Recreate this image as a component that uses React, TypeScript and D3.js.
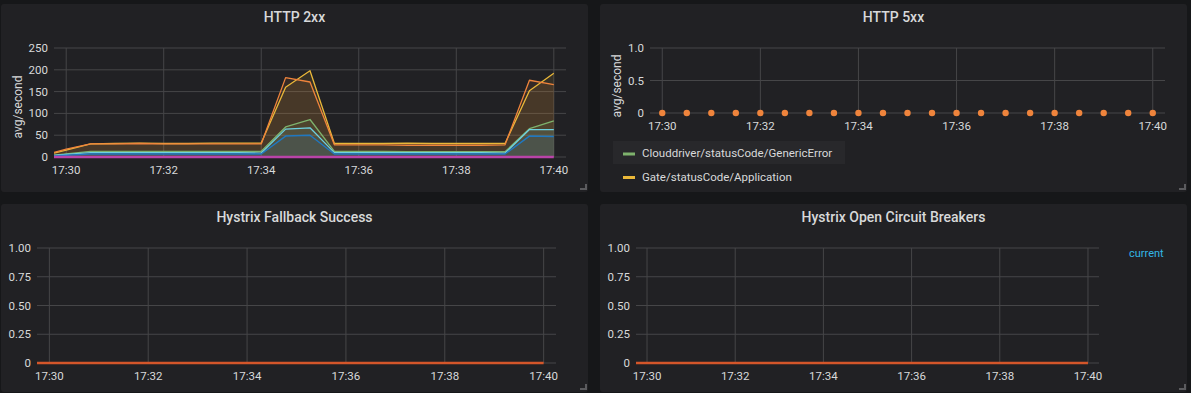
import React from "react";
import * as d3 from "d3";

const W = 1191;
const H = 393;

// 30s samples shared by all panels
const sampleTimes = [
  "17:29:30", "17:30:00", "17:30:30", "17:31:00", "17:31:30", "17:32:00",
  "17:32:30", "17:33:00", "17:33:30", "17:34:00", "17:34:30", "17:35:00",
  "17:35:30", "17:36:00", "17:36:30", "17:37:00", "17:37:30", "17:38:00",
  "17:38:30", "17:39:00", "17:39:30", "17:40:00",
];

// HTTP 2xx series (avg/second)
const http2xxBlue = [1, 4, 7, 7, 7, 7, 7, 7, 7, 7, 48, 50, 7, 7, 7, 7, 7, 7, 7, 7, 48, 47];
const http2xxLightBlue = [1, 6, 10, 10, 10, 10, 10, 10, 10, 9, 64, 67, 10, 10, 10, 10, 10, 10, 10, 9, 63, 63];
const http2xxGreen = [1, 7, 13, 13, 13, 13, 13, 13, 13, 13, 69, 86, 13, 13, 13, 12, 12, 12, 12, 12, 65, 83];
const http2xxYellow = [2, 16, 30, 31, 32, 31, 31, 32, 32, 32, 160, 198, 31, 31, 31, 32, 31, 31, 31, 31, 152, 192];
const http2xxOrange = [3, 18, 30, 30, 31, 30, 30, 30, 30, 30, 182, 172, 28, 28, 28, 27, 27, 27, 27, 28, 176, 166];
const http2xxPink = [0, 0, 0, 0, 0, 0, 0, 0, 0, 0, 0, 0, 0, 0, 0, 0, 0, 0, 0, 0, 0, 0];

// HTTP 5xx: points from 17:30 on, all zero
const http5xxTimes = sampleTimes.slice(1);
const http5xxValues = [0, 0, 0, 0, 0, 0, 0, 0, 0, 0, 0, 0, 0, 0, 0, 0, 0, 0, 0, 0, 0];

// Hystrix panels: flat zero
const hystrixFallback = [0, 0, 0, 0, 0, 0, 0, 0, 0, 0, 0, 0, 0, 0, 0, 0, 0, 0, 0, 0, 0, 0];
const hystrixOpen = [0, 0, 0, 0, 0, 0, 0, 0, 0, 0, 0, 0, 0, 0, 0, 0, 0, 0, 0, 0, 0, 0];

const xTickLabels = ["17:30", "17:32", "17:34", "17:36", "17:38", "17:40"];
const http2xxTicks = [0, 50, 100, 150, 200, 250];
const http5xxTicks = [0, 0.5, 1];
const hystrixTicks = [0, 0.25, 0.5, 0.75, 1];
const legend5xx = ["Clouddriver/statusCode/GenericError", "Gate/statusCode/Application"];

const parseTime = d3.timeParse("%H:%M:%S");
const parseTick = d3.timeParse("%H:%M");
const timeDomain = [parseTime("17:29:45")!, parseTime("17:40:15")!];

const FONT = "Roboto, 'Open Sans', sans-serif";
const TEXT = "#d8d9da";
const GRID = "#464648";
const PANEL = "#212124";

function Panel({ x, y, w, h, title }: any) {
  return (
    <g>
      <rect x={x} y={y} width={w} height={h} rx={3} fill={PANEL} />
      <text
        x={x + w / 2}
        y={y + 18}
        textAnchor="middle"
        fill={TEXT}
        fontSize={14}
        fontWeight={500}
        fontFamily={FONT}
      >
        {title}
      </text>
      {/* resize handle */}
      <path
        d={`M${x + w - 2},${y + h - 8} V${y + h - 3} H${x + w - 8}`}
        fill="none"
        stroke="#5b5b5e"
        strokeWidth={2}
      />
    </g>
  );
}

function Axes({ xs, ys, yTicks, fmt, left, right, top, bottom }: any) {
  return (
    <g fontFamily={FONT} fontSize={11.5} fill={TEXT}>
      {yTicks.map((t: number) => (
        <g key={"y" + t}>
          <line x1={left} x2={right} y1={ys(t)} y2={ys(t)} stroke={GRID} />
          <text x={left - 6} y={ys(t)} dy="0.35em" textAnchor="end">
            {fmt(t)}
          </text>
        </g>
      ))}
      {xTickLabels.map((l) => {
        const px = xs(parseTick(l));
        return (
          <g key={"x" + l}>
            <line x1={px} x2={px} y1={top} y2={bottom} stroke={GRID} />
            <text x={px} y={bottom + 13} dy="0.35em" textAnchor="middle">
              {l}
            </text>
          </g>
        );
      })}
    </g>
  );
}

function YLabel({ x, y }: any) {
  return (
    <text
      transform={`translate(${x},${y}) rotate(-90)`}
      textAnchor="middle"
      fill={TEXT}
      fontSize={12}
      fontFamily={FONT}
    >
      avg/second
    </text>
  );
}

export default function App() {
  const times = sampleTimes.map((t) => parseTime(t)!);

  // Panel 1: HTTP 2xx
  const p1 = { left: 54, right: 566, top: 48, bottom: 157 };
  const x1 = d3.scaleTime().domain(timeDomain).range([p1.left, p1.right]);
  const y1 = d3.scaleLinear().domain([0, 250]).range([p1.bottom, p1.top]);
  const series2xx = [
    { color: "#7EB26D", values: http2xxGreen, width: 1.3 },
    { color: "#EAB839", values: http2xxYellow, width: 1.3 },
    { color: "#6ED0E0", values: http2xxLightBlue, width: 1.3 },
    { color: "#EF843C", values: http2xxOrange, width: 1.3 },
    { color: "#1F78C1", values: http2xxBlue, width: 1.4 },
    { color: "#BA43A9", values: http2xxPink, width: 2.5 },
  ];
  const line1 = d3
    .line<number>()
    .x((_, i) => x1(times[i]))
    .y((d) => y1(d));
  const area1 = d3
    .area<number>()
    .x((_, i) => x1(times[i]))
    .y0(y1(0))
    .y1((d) => y1(d));

  // Panel 2: HTTP 5xx
  const p2 = { left: 650, right: 1165, top: 48, bottom: 113 };
  const x2 = d3.scaleTime().domain(timeDomain).range([p2.left, p2.right]);
  const y2 = d3.scaleLinear().domain([0, 1]).range([p2.bottom, p2.top]);

  // Panels 3 & 4: Hystrix
  const p3 = { left: 37, right: 556, top: 248, bottom: 363 };
  const x3 = d3.scaleTime().domain(timeDomain).range([p3.left, p3.right]);
  const y3 = d3.scaleLinear().domain([0, 1]).range([p3.bottom, p3.top]);
  const p4 = { left: 636, right: 1099, top: 248, bottom: 363 };
  const x4 = d3.scaleTime().domain(timeDomain).range([p4.left, p4.right]);
  const y4 = d3.scaleLinear().domain([0, 1]).range([p4.bottom, p4.top]);

  const lineOf = (xs: any, ys: any) =>
    d3
      .line<number>()
      .x((_, i) => xs(times[i]))
      .y((d) => ys(d));

  const fmt2xx = (v: number) => String(v);
  const fmt5xx = (v: number) => (v === 0 ? "0" : d3.format(".1f")(v));
  const fmtHys = (v: number) => (v === 0 ? "0" : d3.format(".2f")(v));

  return (
    <div style={{ position: "absolute", left: 0, top: 0 }}>
      <svg width={W} height={H} style={{ display: "block", background: "#161719" }}>
        <defs>
          <clipPath id="c1">
            <rect x={p1.left} y={p1.top - 5} width={p1.right - p1.left} height={p1.bottom - p1.top + 10} />
          </clipPath>
          <clipPath id="c3">
            <rect x={p3.left} y={p3.top - 5} width={p3.right - p3.left} height={p3.bottom - p3.top + 10} />
          </clipPath>
          <clipPath id="c4">
            <rect x={p4.left} y={p4.top - 5} width={p4.right - p4.left} height={p4.bottom - p4.top + 10} />
          </clipPath>
        </defs>

        <Panel x={1} y={4} w={587} h={188} title="HTTP 2xx" />
        <Panel x={600} y={4} w={587} h={188} title="HTTP 5xx" />
        <Panel x={1} y={204} w={587} h={188} title="Hystrix Fallback Success" />
        <Panel x={600} y={204} w={587} h={188} title="Hystrix Open Circuit Breakers" />

        {/* HTTP 2xx */}
        <Axes xs={x1} ys={y1} yTicks={http2xxTicks} fmt={fmt2xx} {...p1} />
        <YLabel x={22} y={107} />
        <g clipPath="url(#c1)">
          {series2xx.map((s) => (
            <path key={"a" + s.color} d={area1(s.values)!} fill={s.color} fillOpacity={0.1} />
          ))}
          {series2xx.map((s) => (
            <path
              key={"l" + s.color}
              d={line1(s.values)!}
              fill="none"
              stroke={s.color}
              strokeWidth={s.width}
              strokeLinejoin="round"
            />
          ))}
        </g>

        {/* HTTP 5xx */}
        <Axes xs={x2} ys={y2} yTicks={http5xxTicks} fmt={fmt5xx} {...p2} />
        <YLabel x={621} y={86} />
        {http5xxValues.map((v, i) => (
          <circle
            key={"d" + i}
            cx={x2(parseTime(http5xxTimes[i])!)}
            cy={y2(v)}
            r={3.2}
            fill="#EF843C"
          />
        ))}
        <rect x={613} y={141} width={232} height={23} fill="#28282b" />
        {legend5xx.map((l, i) => (
          <g key={l}>
            <rect x={623} y={152.5 + i * 23.5} width={12} height={3} fill={i === 0 ? "#7EB26D" : "#EAB839"} />
            <text x={642} y={153 + i * 23.5} dy="0.35em" fill={TEXT} fontSize={11.5} fontFamily={FONT}>
              {l}
            </text>
          </g>
        ))}

        {/* Hystrix Fallback Success */}
        <Axes xs={x3} ys={y3} yTicks={hystrixTicks} fmt={fmtHys} {...p3} />
        <g clipPath="url(#c3)">
          <path d={lineOf(x3, y3)(hystrixFallback)!} fill="none" stroke="#d4562a" strokeWidth={2.5} />
        </g>

        {/* Hystrix Open Circuit Breakers */}
        <Axes xs={x4} ys={y4} yTicks={hystrixTicks} fmt={fmtHys} {...p4} />
        <g clipPath="url(#c4)">
          <path d={lineOf(x4, y4)(hystrixOpen)!} fill="none" stroke="#d4562a" strokeWidth={2.5} />
        </g>
        <text x={1129} y={253} dy="0.35em" fill="#33b5e5" fontSize={11} fontFamily={FONT}>
          current
        </text>
      </svg>
    </div>
  );
}
